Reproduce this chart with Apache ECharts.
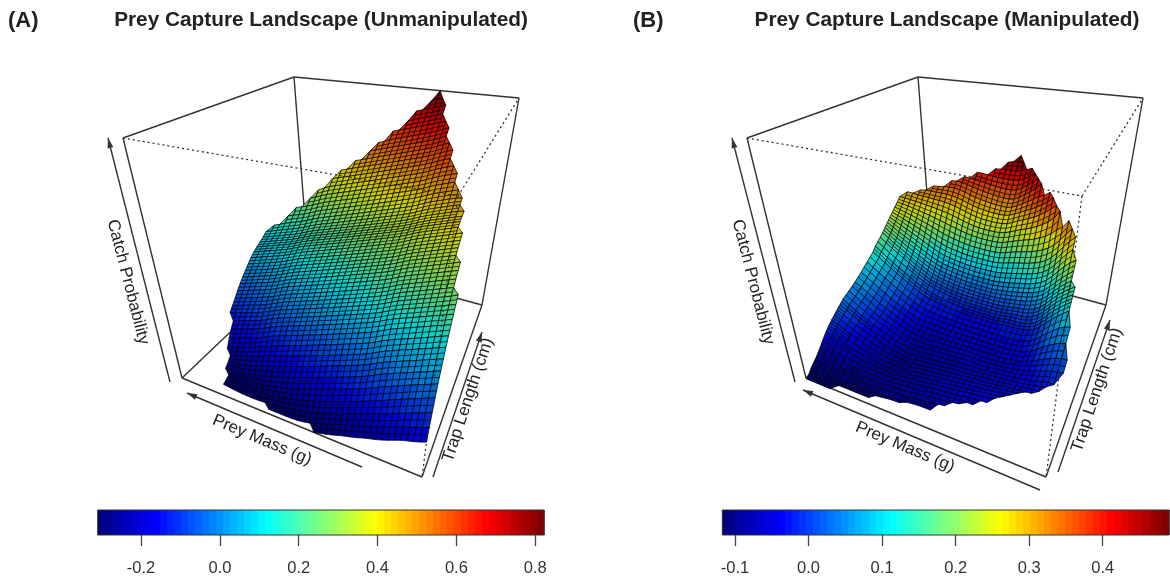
<!DOCTYPE html>
<html><head><meta charset="utf-8">
<style>html,body{margin:0;padding:0;background:#fff}#c{width:1170px;height:578px}</style>
<script src="https://cdn.jsdelivr.net/npm/echarts@6/dist/echarts.min.js"></script>
</head><body><div id="c"></div>
<script>
// Prey mass grid (fraction of the mass axis)
const massGrid = [0,.025,.05,.075,.1,.125,.15,.175,.2,.225,.25,.275,.3,.325,.35,.375,.4,.425,.45,.475,.5,.525,.55,.575,.6,.625,.65,.675,.7,.725,.75,.775,.8,.825,.85,.875,.9,.925,.95,.975,1];
// Trap length grids (fraction of the trap axis)
const trapA = [0,.025,.05,.075,.1,.125,.15,.175,.2,.225,.25,.275,.3,.325,.35,.375,.4,.425,.45,.475,.5,.525,.55,.575,.6,.625,.65,.675,.7,.725,.75,.775,.8,.825,.85,.875,.9,.925,.95,.975,1];
const trapB = [0,.025,.0375,.05,.075,.1,.125,.15,.175,.2,.225,.25,.275,.3,.325,.35,.4,.45,.5,.55,.6,.62,.64,.66,.68,.7,.72,.74,.76,.78,.8,.82,.84,.86,.88,.9,.92,.94,.96,.98,1];
// First mass-grid index present in each trap row
const rowStartA = [0,0,0,0,0,0,0,0,0,0,0,0,0,1,1,1,1,2,2,2,2,3,3,3,3,4,4,5,6,6,7,8,8,9,10,10,11,12,12,13,14];
const rowStartB = [36,30,25,20,18,16,14,12,11,10,9,8,6,5,4,3,2,2,3,3,4,4,4,4,5,5,5,6,6,7,8,10,11,12,13,15,16,17,18,20,21];
// Catch probability (hundredths), panel A
const zA = [
[-17,-18,-19,-19,-20,-21,-22,-23,-24,-24,-25,-26,-27,-27,-28,-29,-30,-30,-31],
[-13,-14,-15,-16,-17,-18,-19,-20,-21,-21,-22,-23,-24,-25,-26,-27,-28,-29,-29,-30,-30,-31,-31,-31,-31,-31,-31],
[-8,-9,-10,-11,-12,-13,-14,-15,-16,-17,-18,-19,-20,-21,-22,-23,-24,-25,-26,-27,-28,-28,-29,-29,-30,-30,-30,-31,-31,-31,-31,-31,-31,-30,-30],
[-4,-5,-6,-7,-8,-9,-10,-12,-13,-14,-15,-16,-17,-18,-19,-20,-21,-22,-23,-24,-25,-26,-27,-27,-28,-28,-29,-29,-29,-29,-29,-29,-29,-29,-29],
[1,0,-1,-2,-3,-4,-5,-6,-7,-8,-10,-11,-12,-13,-14,-15,-16,-17,-18,-19,-20,-21,-22,-23,-24,-25,-26,-27,-27,-28,-28,-29,-29,-29,-29],
[4,3,2,1,0,-1,-2,-3,-4,-5,-6,-8,-9,-10,-11,-12,-13,-14,-15,-16,-17,-18,-19,-20,-21,-22,-23,-24,-25,-26,-27,-27,-28,-28,-28,-28],
[8,7,6,5,4,3,2,1,0,-1,-2,-4,-5,-6,-7,-8,-9,-10,-11,-12,-13,-14,-15,-16,-17,-18,-19,-20,-21,-22,-23,-24,-25,-26,-26,-27],
[11,10,9,8,7,6,5,4,3,2,1,-1,-2,-3,-4,-5,-6,-7,-8,-9,-10,-11,-12,-13,-14,-15,-16,-17,-18,-19,-20,-21,-22,-23,-24,-25],
[14,13,12,11,10,9,8,7,6,5,4,2,1,0,-1,-2,-3,-4,-5,-6,-7,-8,-9,-10,-11,-12,-13,-14,-15,-16,-18,-19,-20,-21,-22,-23,-24],
[18,17,16,15,14,13,12,11,10,9,8,6,5,4,3,2,1,0,-1,-2,-3,-4,-5,-6,-7,-8,-9,-10,-11,-12,-14,-15,-16,-17,-18,-19,-20],
[21,20,19,18,17,16,15,14,13,12,11,9,8,7,6,5,4,3,2,1,0,-1,-2,-3,-4,-5,-6,-7,-8,-9,-11,-12,-13,-14,-15,-16,-17],
[23,22,21,20,19,18,17,16,15,14,13,11,10,9,8,7,6,5,4,3,2,1,0,-1,-2,-3,-4,-5,-6,-7,-9,-10,-11,-12,-13,-14,-15],
[26,25,24,23,22,21,20,19,18,17,16,14,13,12,11,10,9,8,7,6,5,4,3,2,1,0,-1,-2,-3,-4,-6,-7,-8,-9,-10,-11,-12,-13],
[27,26,25,24,23,22,21,20,19,18,16,15,14,13,12,11,10,9,8,7,6,5,4,3,2,1,0,-1,-2,-4,-5,-6,-7,-8,-9,-10,-11],
[29,28,27,26,25,24,23,22,21,20,18,17,16,15,14,13,12,11,10,9,8,7,6,5,4,3,2,1,0,-2,-3,-4,-5,-6,-7,-8,-9],
[32,31,30,29,28,27,26,25,24,23,21,20,19,18,17,16,15,14,13,12,11,10,9,8,7,6,5,4,3,1,0,-1,-2,-3,-4,-5,-6],
[34,33,32,31,30,29,28,27,26,25,23,22,21,20,19,18,17,16,15,14,13,12,11,10,9,8,7,6,5,3,2,1,0,-1,-2,-3,-4],
[35,34,33,32,31,30,29,28,27,25,24,23,22,21,20,19,18,17,16,15,14,13,12,11,10,9,8,7,5,4,3,2,1,0,-1,-2],
[37,36,35,34,33,32,31,30,29,27,26,25,24,23,22,21,20,19,18,17,16,15,14,13,12,11,10,9,7,6,5,4,3,2,1,0],
[39,38,37,36,35,34,33,32,31,29,28,27,26,25,24,23,22,21,20,19,18,17,16,15,14,13,12,11,9,8,7,6,5,4,3,2],
[41,40,39,38,37,36,35,34,33,31,30,29,28,27,26,25,24,23,22,21,20,19,18,17,16,15,14,13,11,10,9,8,7,6,5,4],
[42,41,40,39,38,37,36,35,33,32,31,30,29,28,27,26,25,24,23,22,21,20,19,18,17,16,15,13,12,11,10,9,8,7,6],
[43,42,41,40,39,38,37,36,34,33,32,31,30,29,28,27,26,25,24,23,22,21,20,19,18,17,16,14,13,12,11,10,9,8,7],
[44,43,42,41,40,39,38,37,35,34,33,32,31,30,29,28,27,26,25,24,23,22,21,20,19,18,17,15,14,13,12,11,10,9,8],
[45,44,43,42,41,40,39,38,36,35,34,33,32,31,30,29,28,27,26,25,24,23,22,21,20,19,18,16,15,14,13,12,11,10,9],
[46,45,44,43,42,41,40,38,37,36,35,34,33,32,31,30,29,28,27,26,25,24,23,22,21,20,18,17,16,15,14,13,12,11],
[48,47,46,45,44,43,42,40,39,38,37,36,35,34,33,32,31,30,29,28,27,26,25,24,23,22,20,19,18,17,16,15,14],
[50,49,48,47,46,45,43,42,41,40,39,38,37,36,35,34,33,32,31,30,29,28,27,26,25,23,22,21,20,19],
[52,51,50,49,48,46,45,44,43,42,41,40,39,38,37,36,35,34,33,32,31,30,29,28,26,25,24,23],
[55,54,53,52,51,49,48,47,46,45,44,43,42,41,40,39,38,37,36,35,34,33,32,31,29,28],
[57,56,55,54,52,51,50,49,48,47,46,45,44,43,42,41,40,39,38,37,36,35,34,32],
[59,58,57,55,54,53,52,51,50,49,48,47,46,45,44,43,42,41,40,39,38],
[62,61,60,58,57,56,55,54,53,52,51,50,49,48,47,46,45,44,43,42],
[64,63,61,60,59,58,57,56,55,54,53,52,51,50,49,48,47],
[66,64,63,62,61,60,59,58,57,56,55,54,53,52],
[69,67,66,65,64,63,62,61,60,59,58,57,56],
[71,70,69,68,67,66,65,64,63,62],
[73,72,71,70,69,68,67],
[77,76,75,74,73,72],
[79,78,77],
[82]];
// Catch probability (hundredths), panel B
const zB = [
[-12,-12,-12,-12,-12],
[-11,-11,-11,-11,-11,-11,-11,-11,-11,-11,-11],
[-9,-9,-9,-10,-10,-10,-10,-10,-11,-11,-11,-11,-11,-11,-11,-11],
[-8,-8,-8,-8,-9,-9,-9,-9,-9,-10,-10,-10,-10,-10,-10,-10,-10,-10,-10,-10,-10],
[-6,-6,-7,-7,-7,-8,-8,-8,-8,-9,-9,-9,-9,-10,-10,-10,-10,-9,-9,-9,-9,-9,-9],
[-5,-5,-6,-6,-6,-6,-7,-7,-7,-8,-8,-8,-9,-9,-9,-9,-9,-9,-9,-9,-8,-8,-8,-8,-8],
[-5,-5,-5,-5,-6,-6,-6,-6,-7,-7,-7,-7,-8,-8,-8,-8,-8,-8,-8,-8,-8,-8,-8,-7,-7,-7,-7],
[-4,-4,-4,-5,-5,-5,-6,-6,-6,-6,-7,-7,-7,-7,-7,-8,-8,-8,-8,-8,-8,-8,-8,-7,-7,-7,-6,-6,-5],
[-3,-4,-4,-4,-4,-5,-5,-5,-6,-6,-6,-6,-7,-7,-7,-7,-8,-8,-8,-8,-8,-8,-7,-7,-7,-6,-6,-5,-4,-4],
[-3,-3,-4,-4,-4,-4,-5,-5,-5,-6,-6,-6,-6,-7,-7,-7,-7,-8,-8,-8,-8,-8,-8,-7,-7,-6,-6,-5,-4,-3,-2],
[-3,-3,-4,-4,-4,-4,-5,-5,-5,-5,-6,-6,-6,-6,-7,-7,-7,-8,-8,-8,-8,-8,-8,-8,-7,-7,-6,-5,-4,-3,-2,-1],
[-3,-3,-4,-4,-4,-4,-5,-5,-5,-5,-5,-6,-6,-6,-6,-7,-7,-7,-8,-8,-8,-8,-8,-8,-7,-7,-6,-5,-4,-3,-2,-1,0],
[-3,-3,-4,-4,-4,-4,-5,-5,-5,-5,-5,-6,-6,-6,-6,-6,-7,-7,-7,-7,-8,-8,-8,-8,-8,-8,-7,-6,-6,-5,-4,-3,-2,0,1],
[-3,-3,-3,-4,-4,-4,-4,-5,-5,-5,-5,-5,-6,-6,-6,-6,-6,-7,-7,-7,-7,-8,-8,-8,-8,-8,-7,-6,-6,-5,-4,-3,-2,-1,1,2],
[-2,-3,-3,-4,-4,-4,-4,-5,-5,-5,-5,-5,-6,-6,-6,-6,-6,-6,-7,-7,-7,-7,-8,-8,-8,-8,-8,-7,-6,-6,-5,-4,-3,-2,-1,1,3],
[-2,-2,-3,-3,-4,-4,-4,-4,-5,-5,-5,-5,-5,-6,-6,-6,-6,-6,-6,-7,-7,-7,-7,-8,-8,-8,-8,-7,-7,-6,-5,-4,-3,-2,-1,1,2,4],
[0,0,-1,-2,-3,-3,-4,-4,-5,-5,-5,-5,-6,-6,-6,-6,-6,-6,-6,-6,-7,-7,-7,-7,-7,-7,-7,-7,-6,-6,-5,-4,-3,-2,-1,0,2,4,5],
[2,1,1,0,-1,-2,-3,-4,-5,-5,-5,-6,-6,-6,-6,-6,-6,-6,-6,-6,-6,-6,-6,-6,-6,-6,-6,-6,-6,-5,-4,-3,-2,-1,1,2,4,5,7],
[4,4,3,2,0,-1,-3,-4,-4,-5,-5,-5,-5,-5,-5,-5,-5,-5,-5,-5,-5,-5,-5,-5,-5,-5,-5,-5,-4,-3,-2,-1,0,2,3,5,7,8],
[8,8,7,5,3,1,-1,-3,-3,-4,-4,-4,-4,-4,-4,-4,-4,-4,-4,-4,-4,-4,-4,-4,-3,-3,-3,-3,-2,-1,0,1,3,4,6,8,9,11],
[12,10,8,6,4,1,-1,-1,-2,-2,-2,-2,-2,-3,-3,-3,-3,-3,-3,-3,-3,-2,-2,-2,-1,-1,-1,0,1,2,4,5,7,8,10,12,14],
[13,12,10,8,6,3,0,0,-1,-1,-1,-1,-1,-2,-2,-2,-2,-2,-2,-2,-2,-2,-2,-1,-1,0,0,1,2,3,5,6,8,9,11,13,15],
[15,14,12,10,8,5,2,1,1,0,0,0,0,-1,-1,-1,-1,-1,-1,-1,-1,-1,-1,0,0,1,1,2,3,4,6,7,9,10,12,14,16],
[17,16,14,12,10,7,4,3,3,2,2,2,1,1,1,1,1,1,1,1,1,1,1,1,2,2,2,3,4,6,7,8,10,11,13,15,17],
[17,16,14,12,9,7,6,5,4,4,3,3,3,2,2,2,2,2,2,2,3,3,3,3,4,4,5,6,7,8,10,11,13,14,16,18],
[20,18,16,14,11,9,8,7,7,6,6,5,5,5,4,4,4,4,4,4,4,4,4,5,5,5,6,7,9,10,12,13,14,16,18,20],
[24,22,20,17,14,12,11,10,9,9,8,8,7,7,6,6,6,6,6,6,6,7,7,7,8,8,9,10,11,12,14,15,16,18,19,21],
[28,25,22,19,15,14,13,12,12,11,11,10,10,9,9,9,9,9,9,9,9,9,10,10,10,11,12,13,15,16,17,19,20,21,23],
[31,29,26,23,19,18,17,16,15,15,14,14,13,13,12,12,12,12,12,12,12,12,13,13,13,14,15,17,18,19,20,21,22,23,24],
[33,30,27,23,22,21,20,19,19,18,18,17,16,15,15,15,15,15,15,15,16,16,16,17,18,19,20,21,22,23,24,25,25,26],
[35,31,27,26,25,24,23,23,22,22,21,20,19,19,19,19,19,19,19,20,20,21,22,22,23,24,24,25,25,26,26,27,27],
[37,35,33,31,29,28,27,26,25,24,22,22,22,22,22,22,23,23,24,25,26,26,27,27,27,28,28,28,28,29,29],
[38,36,34,32,31,30,29,28,27,25,25,25,25,25,25,26,26,27,28,29,29,30,30,30,30,31,31,31,31],
[40,38,36,34,33,32,31,30,28,28,28,28,28,28,29,29,30,31,32,32,33,33,33,33,33,32],
[41,39,37,35,34,33,32,30,30,30,31,31,31,32,32,33,34,35,35,35,35,34,34],
[43,41,39,37,35,32,33,33,33,34,34,35,35,36,37,38,38,37],
[44,42,40,38,35,36,36,36,37,37,37,38,38,39,39],
[45,43,41,40,40,40,40,40,40,41,41,41],
[46,45,44,44,44,44,43,43],
[47,48,47,46],
[49]];
// Value ranges
const zLimA = [-0.31, 0.82], zLimB = [-0.117, 0.823];
const barRangeA = [-0.31, 0.823], barRangeB = [-0.1173, 0.4906];
const ticksA = [-0.2, 0, 0.2, 0.4, 0.6, 0.8], ticksB = [-0.1, 0, 0.1, 0.2, 0.3, 0.4];
const rampAnchors = ['#00007F','#0000FF','#007FFF','#00FFFF','#7FFF7F','#FFFF00','#FF7F00','#FF0000','#7F0000'];
// Layout of the perspective box (canvas px), keyed u=mass, v=trap, w=height
const cube = {
  '000':[422,477],'100':[182,378],'010':[482,305],'110':[308,258],
  '001':[458,196],'101':[123,138],'011':[519,98],'111':[294,77]
};
const panelDx = {A:0, B:624};
const solidEdges = ['101-111','111-011','101-100','011-010','111-110','100-110','110-010','100-000','000-010'];
const dottedEdges = ['101-001','001-011','001-000'];
const arrows = {
  A:[[[170,382],[108,138]],[[362,467],[187,393]],[[433,477],[482,332]]],
  B:[[[795,382],[732,138]],[[1040,490],[803,390]],[[1058,472],[1110,320]]]
};
const texts = [
  ['(A)',8,21,0,'bold 22px "Liberation Sans"','left'],
  ['(B)',633,21,0,'bold 22px "Liberation Sans"','left'],
  ['Prey Capture Landscape (Unmanipulated)',321,20,0,'bold 20.8px "Liberation Sans"','center'],
  ['Prey Capture Landscape (Manipulated)',947,20,0,'bold 20.8px "Liberation Sans"','center'],
  ['Catch Probability',128,282,-1.32,'17px "Liberation Sans"','center'],
  ['Prey Mass (g)',262,440,-0.40,'17px "Liberation Sans"','center'],
  ['Trap Length (cm)',468,400,1.25,'17px "Liberation Sans"','center'],
  ['Catch Probability',753,282,-1.32,'17px "Liberation Sans"','center'],
  ['Prey Mass (g)',905,447,-0.40,'17px "Liberation Sans"','center'],
  ['Trap Length (cm)',1097,390,1.25,'17px "Liberation Sans"','center']
];

function hex(c){return [1,3,5].map(k=>parseInt(c.substr(k,2),16));}
const palette=[], facetPalette=[];
for(let k=0;k<64;k++){
  const p=k/63*(rampAnchors.length-1), a=Math.min(Math.floor(p),rampAnchors.length-2), f=p-a;
  const c0=hex(rampAnchors[a]), c1=hex(rampAnchors[a+1]);
  const rgb=c0.map((x,n)=>x+(c1[n]-x)*f);
  palette.push('rgb('+rgb.map(Math.round).join(',')+')');
  facetPalette.push('rgb('+rgb.map(x=>Math.round(x*0.82)).join(',')+')');
}
function colourOf(z,range){
  const k=Math.floor((z-range[0])/(range[1]-range[0])*64);
  return facetPalette[Math.max(0,Math.min(63,k))];
}
function project(dx,u,v,w){
  const out=[0,0];
  for(const a of [0,1])for(const b of [0,1])for(const c of [0,1]){
    const t=(a?u:1-u)*(b?v:1-v)*(c?w:1-w), p=cube[''+a+b+c];
    out[0]+=t*p[0];out[1]+=t*p[1];
  }
  out[0]+=dx;return out;
}
// The table is rounded to hundredths; relax those rounding steps so the facets join cleanly.
function relax(rows,starts,passes){
  let cur=rows.map(r=>r.slice());
  for(let n=0;n<passes;n++){
    const at=(j,i)=>{const r=cur[j];return r?r[i-starts[j]]:undefined;};
    cur=cur.map((r,j)=>r.map((z,k)=>{
      const i=k+starts[j],L=at(j,i-1),R=at(j,i+1),D=at(j-1,i),U=at(j+1,i);
      let d=0;
      if(L!==undefined&&R!==undefined)d+=0.2*(L+R-2*z);
      if(D!==undefined&&U!==undefined)d+=0.2*(D+U-2*z);
      return z+d;
    }));
  }
  return cur;
}
function facets(rawRows,starts,trap,zLim,barRange,dx){
  const rows=relax(rawRows,starts,3);
  const cell=(j,i)=>{const r=rows[j];if(!r)return null;const z=r[i-starts[j]];return z===undefined?null:z/100;};
  const list=[];
  for(let j=trap.length-2;j>=0;j--)for(let i=massGrid.length-2;i>=0;i--){
    const pts=[],zs=[];
    [[j,i],[j,i+1],[j+1,i+1],[j+1,i]].forEach(([b,a])=>{
      const z=cell(b,a);
      if(z!==null){zs.push(z);pts.push(project(dx,massGrid[a],trap[b],(z-zLim[0])/(zLim[1]-zLim[0])));}
    });
    if(pts.length<3)continue;
    let mid=null;
    if(pts.length===4&&Math.hypot(pts[3][0]-pts[0][0],pts[3][1]-pts[0][1])>5.5){
      mid=[[(pts[0][0]+pts[3][0])/2,(pts[0][1]+pts[3][1])/2],[(pts[1][0]+pts[2][0])/2,(pts[1][1]+pts[2][1])/2]];
    }
    list.push({pts,mid,fill:colourOf(zs.reduce((s,x)=>s+x,0)/zs.length,barRange)});
  }
  return list;
}
function surfaceSeries(list){
  const mesh='rgba(0,0,0,0.8)';
  return {type:'custom',coordinateSystem:'cartesian2d',xAxisIndex:0,yAxisIndex:0,silent:true,clip:false,animation:false,progressive:0,
    data:list.map((f,n)=>[n]),encode:{x:[],y:[]},
    renderItem:(p,api)=>{
      const f=list[p.dataIndex];
      const kids=[{type:'polygon',shape:{points:f.pts.map(q=>api.coord(q))},style:{fill:f.fill,stroke:mesh,lineWidth:0.9}}];
      if(f.mid){const a=api.coord(f.mid[0]),b=api.coord(f.mid[1]);
        kids.push({type:'line',shape:{x1:a[0],y1:a[1],x2:b[0],y2:b[1]},style:{stroke:mesh,lineWidth:0.9}});}
      return {type:'group',children:kids};
    }};
}
function edgeSeries(edges,dx,dashed){
  const segs=edges.map(e=>e.split('-').map(k=>{const p=cube[k];return [p[0]+dx,p[1]];}));
  return lineSeries(segs,dashed);
}
function lineSeries(segs,dashed){
  return {type:'custom',coordinateSystem:'cartesian2d',xAxisIndex:0,yAxisIndex:0,silent:true,clip:false,animation:false,
    data:segs.map((s,n)=>[n]),encode:{x:[],y:[]},
    renderItem:(p,api)=>{const s=segs[p.dataIndex],a=api.coord(s[0]),b=api.coord(s[1]);
      return {type:'line',shape:{x1:a[0],y1:a[1],x2:b[0],y2:b[1]},
        style:{stroke:'#333',lineWidth:dashed?1.3:1.4,lineDash:dashed?[2,3]:null}};}};
}
function arrowHeads(segs){
  return {type:'custom',coordinateSystem:'cartesian2d',xAxisIndex:0,yAxisIndex:0,silent:true,clip:false,animation:false,
    data:segs.map((s,n)=>[n]),encode:{x:[],y:[]},
    renderItem:(p,api)=>{const s=segs[p.dataIndex],a=api.coord(s[0]),b=api.coord(s[1]);
      const L=Math.hypot(b[0]-a[0],b[1]-a[1]),ux=(b[0]-a[0])/L,uy=(b[1]-a[1])/L;
      return {type:'polygon',shape:{points:[b,[b[0]-ux*10-uy*3,b[1]-uy*10+ux*3],[b[0]-ux*10+uy*3,b[1]-uy*10-ux*3]]},style:{fill:'#333'}};}};
}
function barSeries(range,axis){
  const stops=[];
  palette.forEach((c,k)=>{stops.push({offset:k/64,color:c},{offset:(k+1)/64,color:c});});
  return {type:'custom',coordinateSystem:'cartesian2d',xAxisIndex:axis,yAxisIndex:axis,silent:true,animation:false,
    data:[[range[0],range[1]]],encode:{x:[0,1],y:[]},
    renderItem:(p,api)=>{const a=api.coord([api.value(0),1]),b=api.coord([api.value(1),0]);
      return {type:'rect',shape:{x:a[0],y:a[1],width:b[0]-a[0],height:b[1]-a[1]},
        style:{fill:new echarts.graphic.LinearGradient(0,0,1,0,stops),stroke:'#333',lineWidth:1}};}};
}
function barAxis(range,ticks,idx){
  return {type:'value',gridIndex:idx,min:range[0],max:range[1],splitLine:{show:false},axisLine:{show:false},
    axisTick:{show:true,length:11,lineStyle:{color:'#444',width:1.3},customValues:ticks},
    axisLabel:{show:true,customValues:ticks,margin:25,color:'#333',fontSize:16.5,fontFamily:'Liberation Sans',
      formatter:v=>v.toFixed(1),showMinLabel:true,showMaxLabel:true,hideOverlap:false}};
}
const chart=echarts.init(document.getElementById('c'),null,{renderer:'canvas'});
const hidden={show:false,splitLine:{show:false}};
chart.setOption({
  animation:false,backgroundColor:'#fff',
  grid:[{left:0,right:0,top:0,bottom:0},
        {left:97.7,top:510,width:446.6,height:25},
        {left:722.3,top:510,width:447,height:25}],
  xAxis:[Object.assign({type:'value',gridIndex:0,min:0,max:1170},hidden),barAxis(barRangeA,ticksA,1),barAxis(barRangeB,ticksB,2)],
  yAxis:[Object.assign({type:'value',gridIndex:0,min:0,max:578,inverse:true},hidden),
         Object.assign({type:'value',gridIndex:1,min:0,max:1},hidden),
         Object.assign({type:'value',gridIndex:2,min:0,max:1},hidden)],
  series:[
    edgeSeries(solidEdges,panelDx.A,false),lineSeries(arrows.A,false),arrowHeads(arrows.A),
    surfaceSeries(facets(zA,rowStartA,trapA,zLimA,barRangeA,panelDx.A)),edgeSeries(dottedEdges,panelDx.A,true),
    edgeSeries(solidEdges,panelDx.B,false),lineSeries(arrows.B,false),arrowHeads(arrows.B),
    surfaceSeries(facets(zB,rowStartB,trapB,zLimB,barRangeB,panelDx.B)),edgeSeries(dottedEdges,panelDx.B,true),
    barSeries(barRangeA,1),barSeries(barRangeB,2)
  ],
  graphic:{elements:texts.map(t=>({type:'text',x:t[1],y:t[2],rotation:t[3],silent:true,
    style:{text:t[0],font:t[4],fill:'#222',align:t[5],verticalAlign:'middle'}}))}
});
</script></body></html>
